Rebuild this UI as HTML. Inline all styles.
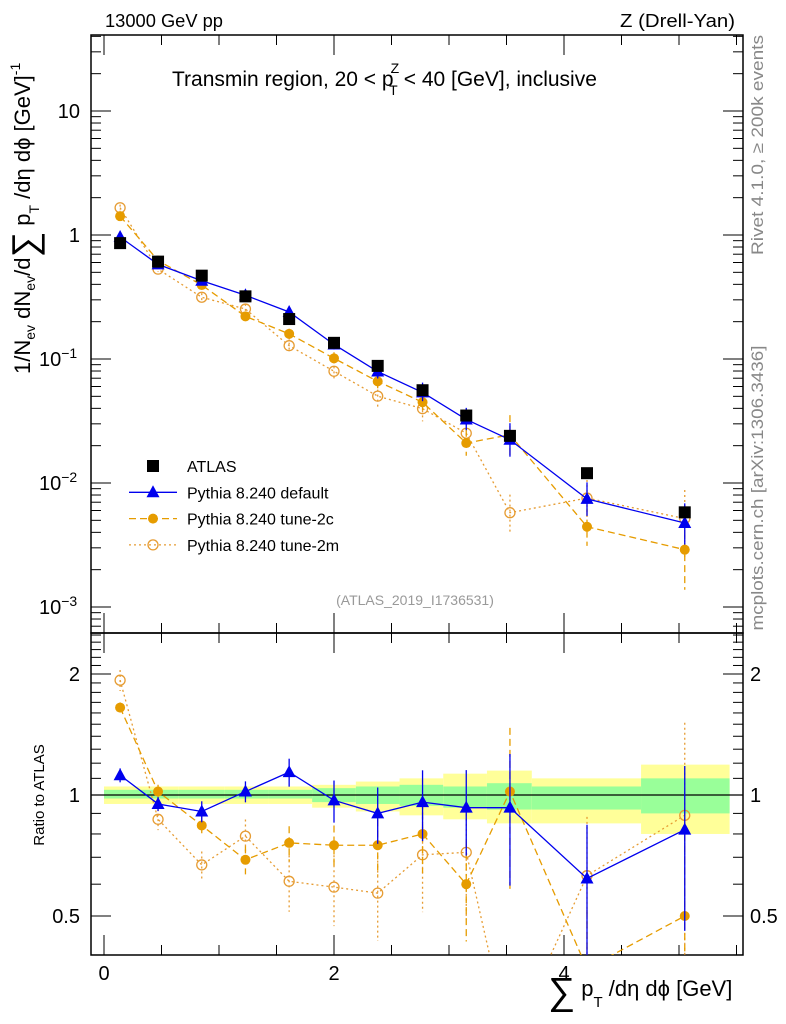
<!DOCTYPE html>
<html><head><meta charset="utf-8"><style>
html,body{margin:0;padding:0;background:#fff;overflow:hidden;width:786px;height:1024px}
svg{display:block}
svg text{font-family:"Liberation Sans",sans-serif}
</style></head><body>
<svg id="chart" width="786" height="1024" viewBox="0 0 786 1024" xmlns="http://www.w3.org/2000/svg">
<rect width="786" height="1024" fill="#fff"/>
<g id="bands"></g>
<g id="axes"></g>
<g id="series"></g>
<text x="105" y="27" font-size="18" textLength="118" lengthAdjust="spacingAndGlyphs">13000 GeV pp</text>
<text x="620" y="27" font-size="18" textLength="115" lengthAdjust="spacingAndGlyphs">Z (Drell-Yan)</text>
<text x="172" y="86" font-size="21">Transmin region, 20 &lt; p<tspan font-size="14" dy="-13" dx="-3">Z</tspan><tspan font-size="14" dy="22" dx="-10">T</tspan><tspan dy="-9" dx="6">&lt; 40 [GeV], inclusive</tspan></text>
<text x="415" y="605" font-size="14" fill="#999" text-anchor="middle">(ATLAS_2019_I1736531)</text>
<text transform="translate(763,145) rotate(-90)" font-size="16.5" fill="#888" text-anchor="middle" textLength="220" lengthAdjust="spacingAndGlyphs">Rivet 4.1.0, ≥ 200k events</text>
<text transform="translate(763,488) rotate(-90)" font-size="16.5" fill="#888" text-anchor="middle" textLength="285" lengthAdjust="spacingAndGlyphs">mcplots.cern.ch [arXiv:1306.3436]</text>
<text transform="translate(30,374) rotate(-90)" font-size="22">1/N<tspan font-size="14" dy="5">ev</tspan><tspan dy="-5"> dN</tspan><tspan font-size="14" dy="5">ev</tspan><tspan dy="-5">/d</tspan><tspan font-size="36" dy="7">∑</tspan><tspan dy="-7"> p</tspan><tspan font-size="14" dy="9">T</tspan><tspan dy="-9"> /dη dϕ  [GeV]</tspan><tspan font-size="14" dy="-10">-1</tspan></text>
<text transform="translate(44,795) rotate(-90)" font-size="15" text-anchor="middle">Ratio to ATLAS</text>
<text x="548" y="996" font-size="22"><tspan font-size="38" dy="8">∑</tspan><tspan dy="-8"> p</tspan><tspan font-size="15" dy="11">T</tspan><tspan dy="-11"> /dη dϕ [GeV]</tspan></text>
<g id="legend"></g>
</svg>
<script>
const xCenters=[0.14,0.47,0.85,1.23,1.61,2.0,2.38,2.77,3.15,3.53,4.2,5.05];
const binEdges=[0,0.3,0.65,1.05,1.43,1.81,2.19,2.57,2.95,3.33,3.72,4.67,5.44];
const atlas=[0.86,0.61,0.47,0.32,0.21,0.135,0.088,0.056,0.035,0.024,0.012,0.0058];
const ratioDefault=[1.12,0.95,0.91,1.02,1.14,0.97,0.9,0.96,0.93,0.93,0.62,0.82];
const ratio2c=[1.65,1.02,0.84,0.69,0.76,0.75,0.75,0.8,0.6,1.02,0.37,0.5];
const ratio2m=[1.93,0.87,0.67,0.79,0.61,0.59,0.57,0.71,0.72,0.24,0.63,0.89];
const errDefault=[0.02,0.02,0.03,0.03,0.04,0.06,0.08,0.1,0.12,0.18,0.18,0.22];
const err2c=[0.015,0.02,0.03,0.04,0.05,0.06,0.08,0.1,0.14,0.22,0.2,0.35];
const err2m=[0.03,0.03,0.04,0.05,0.08,0.1,0.12,0.14,0.16,0.2,0.2,0.35];
const greenLo=[0.98,0.98,0.98,0.98,0.98,0.96,0.95,0.94,0.93,0.92,0.92,0.9];
const greenHi=[1.03,1.03,1.03,1.03,1.03,1.04,1.05,1.06,1.05,1.07,1.05,1.1];
const yellowLo=[0.95,0.95,0.95,0.95,0.95,0.93,0.91,0.89,0.87,0.85,0.85,0.8];
const yellowHi=[1.05,1.05,1.05,1.05,1.05,1.06,1.08,1.1,1.13,1.15,1.1,1.19];

const NS='http://www.w3.org/2000/svg';
const L=91,R=743,MT=35,MB=633,RB=955;
const X=v=>104+v*115;
const Y=v=>235-Math.log10(v)*124;
const YR=v=>795-Math.log10(v)*402;
function el(tag,attrs,parent){const e=document.createElementNS(NS,tag);for(const k in attrs)e.setAttribute(k,attrs[k]);parent.appendChild(e);return e;}
const axes=document.getElementById('axes'),bands=document.getElementById('bands'),ser=document.getElementById('series'),leg=document.getElementById('legend');

for(let i=0;i<xCenters.length;i++){
  const x0=X(binEdges[i]),x1=X(binEdges[i+1]);
  const y=el('rect',{x:x0,y:YR(yellowHi[i]),width:x1-x0,height:YR(yellowLo[i])-YR(yellowHi[i]),fill:'#ffff99'},bands);
  
  
  const g=el('rect',{x:x0,y:YR(greenHi[i]),width:x1-x0,height:YR(greenLo[i])-YR(greenHi[i]),fill:'#99ff99'},bands);
  
  
}
el('rect',{x:L,y:MT,width:R-L,height:MB-MT,fill:'none',stroke:'#000','stroke-width':1.5},axes);
el('rect',{x:L,y:MB,width:R-L,height:RB-MB,fill:'none',stroke:'#000','stroke-width':1.5},axes);
el('line',{x1:L,x2:R,y1:YR(1),y2:YR(1),stroke:'#000','stroke-width':1.3},axes);
for(let v=0;v<=5.5;v+=0.5){
  const maj=Math.abs(v%2)<1e-6, len=maj?20:10;
  [[MT,1],[MB,-1],[MB,1],[RB,-1]].forEach(([y0,d])=>el('line',{x1:X(v),x2:X(v),y1:y0,y2:y0+d*len,stroke:'#000','stroke-width':1},axes));
  if(maj){const t=el('text',{x:X(v),y:980,'font-size':20,'text-anchor':'middle'},axes);t.textContent=v;
    
    }
}
for(let e=-4;e<=1;e++)for(let m=1;m<10;m++){
  const v=m*Math.pow(10,e),y=Y(v);if(y<MT||y>MB)continue;
  const len=m==1?20:10;
  el('line',{x1:L,x2:L+len,y1:y,y2:y,stroke:'#000'},axes);
  el('line',{x1:R,x2:R-len,y1:y,y2:y,stroke:'#000'},axes);
}
const mainLabels=[[10,'10',''],[1,'1',''],[0.1,'10','−1'],[0.01,'10','−2'],[0.001,'10','−3']];
mainLabels.forEach(([v,b,s])=>{const t=el('text',{x:s?70:80,y:Y(v)+7,'font-size':20,'text-anchor':'end'},axes);t.textContent=b;
  
  
  if(s){const sp=el('tspan',{dy:-8,'font-size':14},t);sp.textContent=s;t.setAttribute('text-anchor','start');t.setAttribute('x',39);}});
[0.4,0.5,0.6,0.7,0.8,0.9,1,1.1,1.2,1.3,1.4,1.5,1.6,1.7,1.8,1.9,2,2.1,2.2,2.3,2.4,2.5].forEach(v=>{
  const y=YR(v);if(y<MB||y>RB)return;const maj=[0.5,1,2].includes(v),len=maj?20:10;
  el('line',{x1:L,x2:L+len,y1:y,y2:y,stroke:'#000'},axes);el('line',{x1:R,x2:R-len,y1:y,y2:y,stroke:'#000'},axes);
  if(maj){[[80,'end'],[750,'start']].forEach(([x,a])=>{const t=el('text',{x:x,y:y+7,'font-size':20,'text-anchor':a},axes);t.textContent=v;
    
    });}
});
const defs=el('defs',{},document.getElementById('chart'));
const c1=el('clipPath',{id:'cm'},defs);el('rect',{x:L,y:MT,width:R-L,height:MB-MT},c1);
const c2=el('clipPath',{id:'cr'},defs);el('rect',{x:L,y:MB,width:R-L,height:RB-MB},c2);
const gm=el('g',{'clip-path':'url(#cm)'},ser),gr=el('g',{'clip-path':'url(#cr)'},ser);

function marker(g,type,x,y,col){
  let m;
  if(type=='sq')m=el('rect',{x:x-6,y:y-6,width:12,height:12,fill:'#000'},g);
  else if(type=='tri')m=el('polygon',{points:`${x},${y-7} ${x-6.5},${y+5} ${x+6.5},${y+5}`,fill:col},g);
  else if(type=='dot')m=el('circle',{cx:x,cy:y,r:5,fill:col},g);
  else{m=el('circle',{cx:x,cy:y,r:5,fill:'none',stroke:col,'stroke-width':1.3},g);}
  return m;
}
const defs2=[
 {name:'pythia-default',r:ratioDefault,e:errDefault,col:'#0000ee',type:'tri',dash:''},
 {name:'pythia-tune-2c',r:ratio2c,e:err2c,col:'#e69c00',type:'dot',dash:'7,4'},
 {name:'pythia-tune-2m',r:ratio2m,e:err2m,col:'#e69c33',type:'ring',dash:'2,3'}];
defs2.slice().reverse().forEach(s=>{
  const main=s.r.map((r,i)=>r*atlas[i]);
  const p1=el('polyline',{points:main.map((v,i)=>X(xCenters[i])+','+Y(v)).join(' '),fill:'none',stroke:s.col,'stroke-width':1.3,'stroke-dasharray':s.dash},gm);
  
  
  const p2=el('polyline',{points:s.r.map((v,i)=>X(xCenters[i])+','+YR(v)).join(' '),fill:'none',stroke:s.col,'stroke-width':1.3,'stroke-dasharray':s.dash},gr);
  
  
  s.r.forEach((v,i)=>{
    const x=X(xCenters[i]);
    el('line',{x1:x,x2:x,y1:YR(v+s.e[i]*v*2),y2:YR(Math.max(0.05,v-s.e[i]*v*2)),stroke:s.col,'stroke-width':1.3,'stroke-dasharray':s.dash},gr);
    el('line',{x1:x,x2:x,y1:Y(main[i]*(1+s.e[i]*2)),y2:Y(main[i]*(1-s.e[i]*1.5)),stroke:s.col,'stroke-width':1.3,'stroke-dasharray':s.dash},gm);
    const m1=marker(gm,s.type,x,Y(main[i]),s.col);
    
    
    const m2=marker(gr,s.type,x,YR(v),s.col);
    
    
  });
});
atlas.forEach((v,i)=>{
  const m=marker(gm,'sq',X(xCenters[i]),Y(v),'#000');
  
  
});
const legItems=[['ATLAS','sq','#000',''],['Pythia 8.240 default','tri','#0000ee',''],['Pythia 8.240 tune-2c','dot','#e69c00','7,4'],['Pythia 8.240 tune-2m','ring','#e69c33','2,3']];
legItems.forEach((it,i)=>{
  const y=466+i*26.3;
  const g=el('g',{},leg);
  
  
  if(i>0)el('line',{x1:129,x2:177,y1:y,y2:y,stroke:it[2],'stroke-width':1.3,'stroke-dasharray':it[3]},g);
  marker(g,it[1],153,y,it[2]);
  const t=el('text',{x:187,y:y+6,'font-size':16},g);t.textContent=it[0];
});
</script>
</body></html>
